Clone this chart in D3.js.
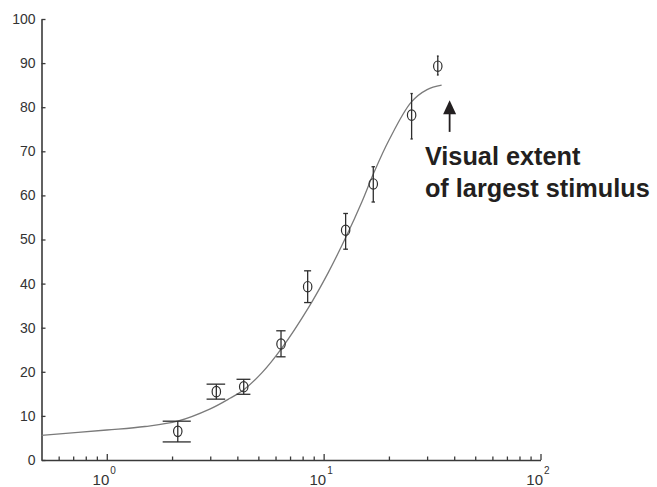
<!DOCTYPE html>
<html>
<head>
<meta charset="utf-8">
<script src="https://cdn.jsdelivr.net/npm/d3@7"></script>
<style>
  html, body { margin: 0; padding: 0; background: #fff; }
  svg { display: block; }
</style>
</head>
<body>
<svg id="chart" width="657" height="487"></svg>
<script>
// ---- data ----
const stimSize  = [2.125, 3.20, 4.28, 6.36, 8.44, 12.63, 16.94, 25.45, 33.6];
const response  = [6.5, 15.5, 16.6, 26.3, 39.3, 52.1, 62.6, 78.2, 89.3];
const errLower  = [4.1, 13.8, 14.9, 23.4, 35.7, 47.8, 58.5, 72.8, 87.3];
const errUpper  = [8.8, 17.2, 18.3, 29.3, 42.9, 55.9, 66.5, 83.1, 91.6];

const fitX = [0.5, 1.0, 1.5, 2.12, 3.0, 3.7, 4.3, 5.2, 6.4, 8.5, 10.5, 12.8, 15.0, 17.0, 20.0, 25.4, 30.0, 35.0];
const fitY = [5.6, 6.8, 7.6, 8.8, 11.6, 14.0, 16.0, 19.8, 25.3, 34.5, 42.5, 51.0, 58.5, 65.0, 72.5, 81.2, 84.0, 85.0];

const yTicks = [0, 10, 20, 30, 40, 50, 60, 70, 80, 90, 100];
const xMajor = [1, 10, 100];
const xMinor = [0.6, 0.7, 0.8, 0.9, 2, 3, 4, 5, 6, 7, 8, 9, 20, 30, 40, 50, 60, 70, 80, 90];
const xExponents = ["0", "1", "2"];

const annotationLines = ["Visual extent", "of largest stimulus"];
const arrowAt = { x: 38.1, yFrom: 74.4, yTo: 81.6 };
const textAt = { x: 29.3, y: 66.9 };

// ---- scales ----
const svg = d3.select("#chart");
const x = d3.scaleLog().domain([0.5, 100]).range([41.5, 540.5]);
const y = d3.scaleLinear().domain([0, 100]).range([460, 19]);

const axisColor = "#3a3a3a";
const font = "'Liberation Sans', Arial, Helvetica, sans-serif";

// ---- y axis ----
const gy = svg.append("g").attr("transform", `translate(${x.range()[0]},0)`)
  .call(d3.axisLeft(y).tickValues(yTicks).tickSize(-4).tickSizeOuter(0).tickPadding(6));
gy.select(".domain").attr("stroke", axisColor).attr("stroke-width", 1.6);
gy.selectAll(".tick line").attr("stroke", axisColor).attr("stroke-width", 1.3);
gy.selectAll(".tick text").attr("fill", "#333").style("font-family", font).style("font-size", "14px");

// ---- x axis (minor ticks) ----
const gxm = svg.append("g").attr("transform", `translate(0,${y.range()[0]})`)
  .call(d3.axisBottom(x).tickValues(xMinor).tickSize(-3.5).tickSizeOuter(0).tickFormat(() => ""));
gxm.select(".domain").remove();
gxm.selectAll(".tick line").attr("stroke", axisColor).attr("stroke-width", 1.3);

// ---- x axis (major ticks + labels) ----
const gx = svg.append("g").attr("transform", `translate(0,${y.range()[0]})`)
  .call(d3.axisBottom(x).tickValues(xMajor).tickSize(-6).tickSizeOuter(0).tickFormat(() => ""));
gx.select(".domain").attr("stroke", axisColor).attr("stroke-width", 1.6);
gx.selectAll(".tick line").attr("stroke", axisColor).attr("stroke-width", 1.3);
gx.selectAll(".tick text").remove();
gx.selectAll(".tick").each(function(d, i) {
  const g = d3.select(this);
  g.append("text").text("10")
    .attr("x", 2).attr("y", 25).attr("text-anchor", "end")
    .attr("fill", "#333").style("font-family", font).style("font-size", "15px");
  g.append("text").text(xExponents[i])
    .attr("x", 3).attr("y", 14).attr("text-anchor", "start")
    .attr("fill", "#333").style("font-family", font).style("font-size", "10px");
});

// ---- fitted curve ----
const fitPts = fitX.map((v, i) => [v, fitY[i]]);
svg.append("path")
  .datum(fitPts)
  .attr("fill", "none")
  .attr("stroke", "#7a7a7a")
  .attr("stroke-width", 1.3)
  .attr("d", d3.line().x(d => x(d[0])).y(d => y(d[1])).curve(d3.curveCatmullRom.alpha(0.5)));

// ---- error bars (MATLAB-style tee width = x range / 100 in data units) ----
const tee = (d3.max(stimSize) - d3.min(stimSize)) / 100;
const pts = stimSize.map((v, i) => ({ x: v, y: response[i], lo: errLower[i], hi: errUpper[i] }));
const eb = svg.append("g").attr("stroke", "#2e2e2e").attr("stroke-width", 1.3).attr("fill", "none");
eb.selectAll("line.v").data(pts).join("line").attr("class", "v")
  .attr("x1", d => x(d.x)).attr("x2", d => x(d.x))
  .attr("y1", d => y(d.lo)).attr("y2", d => y(d.hi));
eb.selectAll("line.t").data(pts).join("line").attr("class", "t")
  .attr("x1", d => x(d.x - tee)).attr("x2", d => x(d.x + tee))
  .attr("y1", d => y(d.hi)).attr("y2", d => y(d.hi));
eb.selectAll("line.b").data(pts).join("line").attr("class", "b")
  .attr("x1", d => x(d.x - tee)).attr("x2", d => x(d.x + tee))
  .attr("y1", d => y(d.lo)).attr("y2", d => y(d.lo));

// ---- markers ----
svg.append("g").selectAll("ellipse").data(pts).join("ellipse")
  .attr("cx", d => x(d.x)).attr("cy", d => y(d.y))
  .attr("rx", 4.2).attr("ry", 5.2)
  .attr("fill", "none").attr("stroke", "#2e2e2e").attr("stroke-width", 1.2);

// ---- annotation arrow ----
const ax = x(arrowAt.x), ay0 = y(arrowAt.yFrom), ay1 = y(arrowAt.yTo);
svg.append("line").attr("x1", ax).attr("x2", ax).attr("y1", ay0).attr("y2", ay1 + 8)
  .attr("stroke", "#231f20").attr("stroke-width", 1.8);
svg.append("path")
  .attr("d", `M${ax},${ay1} L${ax - 6.5},${ay1 + 14} L${ax + 6.5},${ay1 + 14} Z`)
  .attr("fill", "#231f20");

// ---- annotation text ----
const txt = svg.append("text")
  .attr("x", x(textAt.x)).attr("y", y(textAt.y))
  .attr("fill", "#231f20")
  .style("font-family", font).style("font-weight", "bold").style("font-size", "25.3px");
annotationLines.forEach((t, i) => {
  txt.append("tspan").attr("x", x(textAt.x)).attr("dy", i === 0 ? 0 : 32).text(t);
});
</script>
</body>
</html>
